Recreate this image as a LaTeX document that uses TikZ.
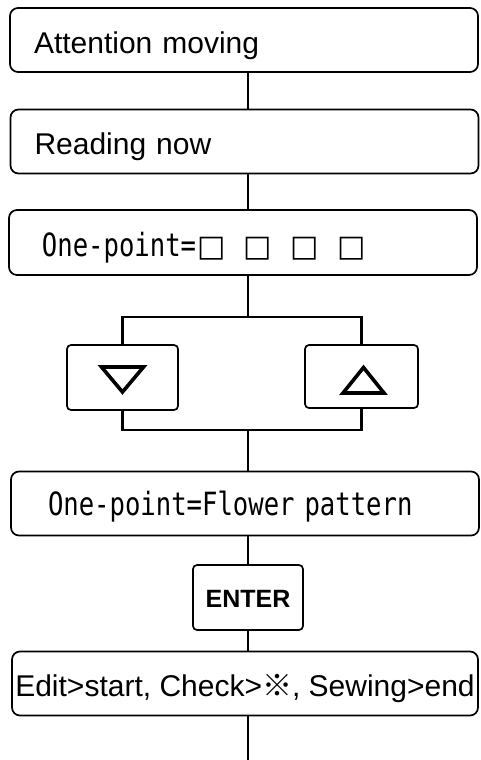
\documentclass[tikz,border=0pt]{standalone}
\usepackage{fontspec}
\setmainfont{Liberation Sans}
\newfontfamily\gothic[FakeStretch=0.8]{DejaVu Sans Mono}
\newfontfamily\symb{DejaVu Sans}
\newfontfamily\cjk{Noto Sans CJK JP}
\usetikzlibrary{positioning,calc}
\newcommand{\slot}{\makebox[46.7pt][l]{\symb\fontsize{30}{36}\selectfont □}}

\begin{document}
\begin{tikzpicture}[x=1pt,y=-1pt,
    box/.style={draw,line width=1.7pt,rounded corners=8pt,minimum height=64pt,inner xsep=0pt,text height=26pt,text depth=0pt,font=\fontsize{30}{36}\selectfont},
    panel/.style={box,minimum width=468pt,text width=420pt,align=left},
    key/.style={draw,line width=1.7pt,rounded corners=4pt,minimum width=111pt,minimum height=65pt,inner sep=0pt},
    wire/.style={line width=2.4pt},
    glyph/.style={line width=3.6pt,line join=miter}]
  \useasboundingbox (0,0) rectangle (480,760);
  %Panels
  \node[panel] (attn) at (244,40) {Attention moving};
  \node[panel] (read) at (244.5,141.5) {Reading now};
  \node[panel,minimum height=65pt,text height=27pt] (opt) at (243,242.5) {\hspace*{9pt}{\gothic\fontsize{32}{36}\selectfont One-point=}\hspace{1pt}\slot\slot\slot\slot};
  \node[panel,text height=23pt] (flower) at (245,503.5) {\hspace*{13pt}{\gothic\fontsize{32}{36}\selectfont One-point=Flower pattern}};
  \node[box,minimum width=466pt,text height=25pt] (edit) at (245,683.5) {Edit>start, Check>{\cjk ※}, Sewing>end};
  %Keys
  \node[key] (down) at (122.5,377.5) {};
  \node[key,minimum width=113pt,minimum height=63pt] (up) at (361.5,376.5) {};
  \node[key,minimum width=110pt,text height=19pt,text depth=0pt,font=\bfseries\fontsize{25}{30}\selectfont] (enter) at (248,597.5) {ENTER};
  \draw[glyph] ($(down.center)+(-21,-10.5)$) -- ($(down.center)+(21,-10.5)$) -- ($(down.center)+(0,14.5)$) -- cycle;
  \draw[glyph] ($(up.center)+(2,-9)$) -- ($(up.center)+(22.5,16.5)$) -- ($(up.center)+(-18.5,16.5)$) -- cycle;
  %Junctions
  \coordinate (split) at (248,317);
  \coordinate (merge) at (248,430);
  \coordinate (tail) at (248,760);
  %Draw edges
  \draw[wire] (attn.south -| enter) -- (read.north -| enter);
  \draw[wire] (read.south -| enter) -- (opt.north -| enter);
  \draw[wire] (opt.south -| split) -- (split);
  \draw[wire] (down.north) |- (split) -| (up.north);
  \draw[wire] (down.south) |- (merge) -| (up.south);
  \draw[wire] (merge) -- (flower.north -| merge);
  \draw[wire] (flower.south -| enter) -- (enter);
  \draw[wire] (enter) -- (edit.north -| enter);
  \draw[wire] (edit.south -| tail) -- (tail);
\end{tikzpicture}
\end{document}
